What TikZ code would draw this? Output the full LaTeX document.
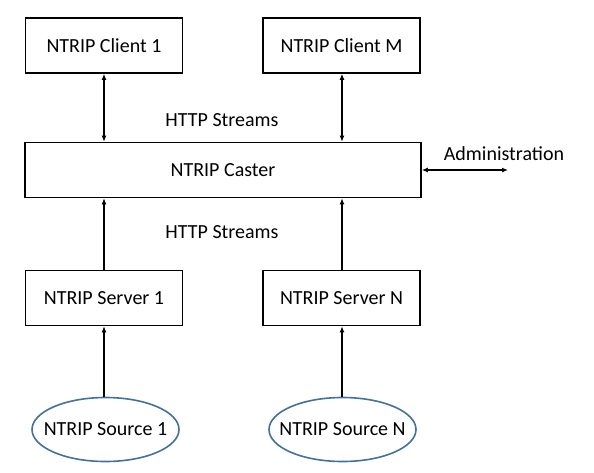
\documentclass[tikz,border=0pt]{standalone}
\usepackage{fontspec}
\setmainfont{Carlito}
\usetikzlibrary{arrows.meta,shapes.geometric}
\definecolor{ellblue}{RGB}{65,113,156}
\newcommand{\zerow}[1]{\makebox[0pt]{#1}}
\begin{document}
\begin{tikzpicture}[x=1pt,y=-1pt,
  txt/.style={font=\fontsize{20}{24}\selectfont},
  box/.style={txt,draw=black,line width=1.6pt,minimum width=157pt,minimum height=55pt,inner sep=0pt},
  src/.style={txt,ellipse,draw=ellblue,line width=1.6pt,minimum width=147pt,minimum height=64pt,inner sep=0pt},
  lbl/.style={txt,inner sep=0pt},
  conn/.style={line width=1.5pt,-{Latex[length=6pt,width=5pt]}},
  bconn/.style={line width=1.5pt,{Latex[length=6pt,width=5pt]}-{Latex[length=6pt,width=5pt]}}]
\useasboundingbox (0,0) rectangle (594,472);
\node[box] (c1) at (104,45.5) {NTRIP Client 1};
\node[box] (cm) at (341.5,45.5) {NTRIP Client M};
\node[box,minimum width=396pt] (caster) at (223,170) {NTRIP Caster};
\node[box] (s1) at (104,298) {NTRIP Server 1};
\node[box] (sn) at (341.5,298) {NTRIP Server N};
\node[src] (src1) at (105.5,429.5) {\zerow{NTRIP Source 1}};
\node[src] (srcn) at (342.5,429.5) {\zerow{NTRIP Source N}};
\node[lbl] (h1) at (222,120) {HTTP Streams};
\node[lbl] (h2) at (222,232) {HTTP Streams};
\node[lbl] (adm) at (504,154) {Administration};
\coordinate (admend) at (508,170);
\draw[bconn] (c1.south -| 104,0) -- (caster.north -| 104,0);
\draw[bconn] (cm.south -| 342,0) -- (caster.north -| 342,0);
\draw[conn] (s1.north -| 104,0) -- (caster.south -| 104,0);
\draw[conn] (sn.north -| 342,0) -- (caster.south -| 342,0);
\draw[conn] (src1.north -| 104,0) -- (s1.south -| 104,0);
\draw[conn] (srcn.north -| 342,0) -- (sn.south -| 342,0);
\draw[bconn] (caster.east) -- (admend);
\end{tikzpicture}
\end{document}
